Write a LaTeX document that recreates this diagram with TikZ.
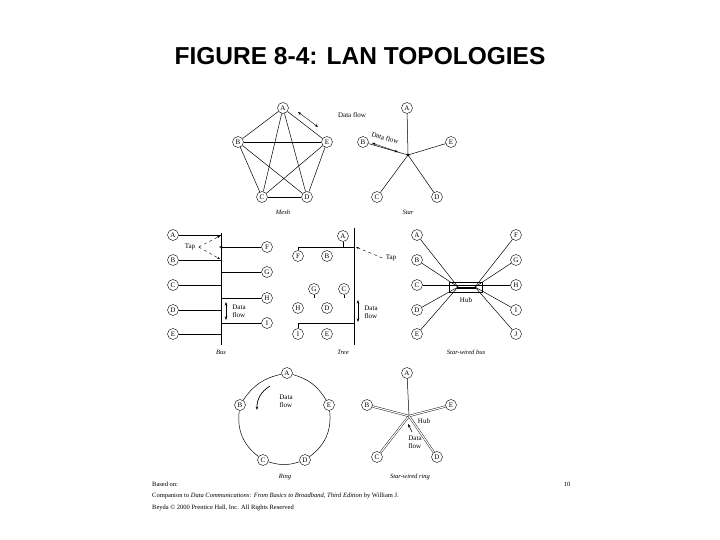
\documentclass[tikz,border=0pt]{standalone}
\usepackage{fontspec}
\setmainfont{Liberation Serif}
\newfontfamily\titlefont{Liberation Sans}
\usetikzlibrary{arrows.meta}
\begin{document}
\begin{tikzpicture}[x=1pt,y=-1pt,
 nd/.style={circle,draw,line width=0.4pt,minimum size=11pt,inner sep=0pt,font=\fontsize{7}{7}\selectfont},
 lbl/.style={font=\fontsize{6.5}{7}\selectfont\itshape},
 txt/.style={font=\fontsize{7}{8}\selectfont,align=left},
 ft/.style={anchor=west,font=\fontsize{6.5}{7}\selectfont,inner sep=0pt},
 ln/.style={line width=0.5pt},
 dl/.style={double,double distance=1.2pt,line width=0.4pt},
 ar/.style={-{Stealth[length=3.5pt,width=2.5pt]},line width=0.5pt},
 dar/.style={{Stealth[length=3.5pt,width=2.5pt]}-{Stealth[length=3.5pt,width=2.5pt]},line width=0.4pt},
 tapar/.style={-{Stealth[length=3pt]},dashed,line width=0.4pt}]
\useasboundingbox (0,0) rectangle (720,540);
\node (title) at (360,56) {\titlefont\bfseries\fontsize{24.5}{26}\selectfont FIGURE 8-4: LAN TOPOLOGIES};
% Mesh
\node[nd] (mA) at (283,108) {A};
\node[nd] (mB) at (238,142) {B};
\node[nd] (mE) at (327,142) {E};
\node[nd] (mC) at (262,197) {C};
\node[nd] (mD) at (307,197) {D};
\foreach \a/\b in {mA/mB,mA/mE,mA/mC,mA/mD,mB/mE,mB/mC,mB/mD,mE/mC,mE/mD,mC/mD} \draw[ln] (\a)--(\b);
\coordinate (mf1) at (298,112); \coordinate (mf2) at (318,127);
\draw[dar] (mf1)--(mf2);
\node[txt] (mdf) at (352,115) {Data flow};
\node[lbl] (mesh) at (283,212) {Mesh};
% Star
\coordinate (sc) at (408,155);
\node[nd] (sA) at (407,108) {A};
\node[nd] (sB) at (363,142) {B};
\node[nd] (sE) at (451,142) {E};
\node[nd] (sC) at (377,197) {C};
\node[nd] (sD) at (437,197) {D};
\foreach \a in {sA,sB,sE,sC,sD} \draw[ln] (\a)--(sc);
\fill (sc) circle (1.5pt);
\coordinate (sf1) at (372,143); \coordinate (sf2) at (398,152);
\draw[dar] (sf1)--(sf2);
\node[txt,rotate=-17] (sdf) at (385,138) {Data flow};
\node[lbl] (star) at (408,212) {Star};
% Bus
\coordinate (bt) at (221,233); \coordinate (bb) at (221,345);
\draw[ln] (bt)--(bb);
\foreach \n/\y in {A/235,B/260,C/285,D/310,E/334} {\node[nd] (b\n) at (173,\y) {\n}; \draw[ln] (b\n)--(221,\y);}
\foreach \n/\y in {F/247,G/272,H/298,I/323} {\node[nd] (b\n) at (267,\y) {\n}; \draw[ln] (b\n)--(221,\y);}
\node[txt] (btap) at (190,247) {Tap};
\draw[tapar] (btap.east)--(220,236);
\draw[tapar] (btap.east)--(220,259);
\draw[ar] (226,247)--(219,247);
\draw[dar] (226,302)--(226,320);
\node[txt] (bdf) at (239,311) {Data\\flow};
\node[lbl] (bus) at (221,352) {Bus};
% Tree
\coordinate (tt) at (354,228); \coordinate (tb) at (354,345);
\draw[ln] (tt)--(tb);
\node[nd] (tA) at (343,236) {A};
\draw[ln] (299,247)--(354,247);
\draw[ln] (tA)--(343,247);
\draw[ln] (298,323)--(354,323);
\foreach \n/\x/\y in {F/298/256,B/327/256,G/314/289,C/344/289,H/298/308,D/327/308,I/298/334,E/327/334} \node[nd] (t\n) at (\x,\y) {\n};
\draw[ln] (tF)--(298,247); \draw[ln] (tI)--(298,323);
\draw[ln] (tG.south)--++(0,3); \draw[ln] (tC.south)--++(0,3);
\draw[dar] (358,300)--(358,322);
\node[txt] (tdf) at (371,312) {Data\\flow};
\node[txt] (ttap) at (391,258) {Tap};
\draw[tapar] (ttap.west)--(356,247);
\node[lbl] (tree) at (343,352) {Tree};
% Star-wired bus
\draw[line width=0.4pt] (449,282) rectangle (482,292);
\draw[line width=1.2pt] (457,288)--(476,288);
\foreach \n/\y in {A/235,B/260,D/310,E/334} {\node[nd] (w\n) at (417,\y) {\n}; \draw[ln] (w\n)--(458,287);}
\foreach \n/\y in {F/235,G/260,I/310,J/334} {\node[nd] (w\n) at (516,\y) {\n}; \draw[ln] (w\n)--(475,287);}
\node[nd] (wC) at (417,285) {C}; \node[nd] (wH) at (516,285) {H};
\draw[ln] (wC)--(wH);
\node[txt] (hub1) at (466,300) {Hub};
\node[lbl] (swb) at (466,352) {Star-wired bus};
% Ring
\node[nd] (rA) at (287,373) {A};
\node[nd] (rB) at (240,405) {B};
\node[nd] (rE) at (329,405) {E};
\node[nd] (rC) at (263,460) {C};
\node[nd] (rD) at (305,460) {D};
\draw[ln] (rA) to[bend right=22] (rB);
\draw[ln] (rB) to[bend right=30] (rC);
\draw[ln] (rC) to[bend right=18] (rD);
\draw[ln] (rD) to[bend right=30] (rE);
\draw[ln] (rE) to[bend right=22] (rA);
\draw[ar,line width=0.7pt] (270,386) to[bend right=30] (257,410);
\node[txt] (rdf) at (286,401) {Data\\flow};
\node[lbl] (ring) at (285,477) {Ring};
% Star-wired ring
\coordinate (hc) at (409,416);
\node[nd] (qA) at (407,373) {A};
\node[nd] (qB) at (367,405) {B};
\node[nd] (qE) at (451,405) {E};
\node[nd] (qC) at (377,457) {C};
\node[nd] (qD) at (437,457) {D};
\draw[ln] (qA)--(hc);
\foreach \a in {qB,qE,qC,qD} \draw[dl] (\a)--(hc);
\node[txt] (hub2) at (424,421) {Hub};
\draw[ar] (412,432)--(408,424);
\node[txt] (qdf) at (415,442) {Data\\flow};
\node[lbl] (swr) at (410,477) {Star-wired ring};
% footer
\node[ft] (f1) at (152,484) {Based on:};
\node[ft] (f2) at (152,496) {Companion to \textit{Data Communications: From Basics to Broadband, Third Edition} by William J.};
\node[ft] (f3) at (152,508) {Beyda \textcopyright{} 2000 Prentice Hall, Inc. All Rights Reserved};
\node[font=\fontsize{6.5}{7}\selectfont] (pg) at (567,484) {10};
\end{tikzpicture}
\end{document}
